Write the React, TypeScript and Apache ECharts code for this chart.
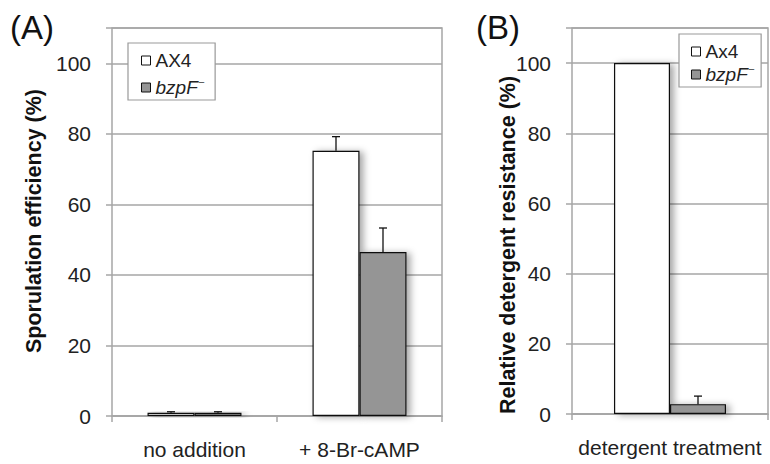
import React, { useEffect, useRef } from "react";
import * as echarts from "echarts";

const catsA = ["no addition", "+ 8-Br-cAMP"];
const ax4A = [0.9, 75.2];
const ax4AErr = [0.3, 4.0];
const bzpA = [0.9, 46.5];
const bzpAErr = [0.3, 6.8];

const catsB = ["detergent treatment"];
const ax4B = [100];
const ax4BErr = [0];
const bzpB = [2.8];
const bzpBErr = [2.3];

const yTicks = [0, 20, 40, 60, 80, 100];

const FONT = "Liberation Sans, Arial, sans-serif";
const GRAY = "#a6a6a6";
const BAR_GRAY = "#959595";
const BW_A = 47;
const BW_B = 56;

function errSeries(idx: number, means: number[], errs: number[], offset: number) {
  return {
    type: "custom",
    xAxisIndex: idx,
    yAxisIndex: idx,
    silent: true,
    z: 5,
    data: means.map((m, i) => [i, m, errs[i]]),
    renderItem: (params: any, api: any) => {
      const i = api.value(0);
      const m = api.value(1);
      const e = api.value(2);
      if (!e) return { type: "group", children: [] };
      const p0 = api.coord([i, m]);
      const p1 = api.coord([i, m + e]);
      const x = p0[0] + offset;
      const style = { stroke: "#111", lineWidth: 1.3 };
      return {
        type: "group",
        children: [
          { type: "line", shape: { x1: x, y1: p0[1], x2: x, y2: p1[1] }, style },
          { type: "line", shape: { x1: x - 4, y1: p1[1], x2: x + 4, y2: p1[1] }, style },
        ],
      };
    },
  };
}

const barStyle = (color: string) => ({
  color,
  borderColor: "#111",
  borderWidth: 1.2,
  shadowColor: "rgba(0,0,0,0.35)",
  shadowBlur: 7,
  shadowOffsetX: 4,
  shadowOffsetY: 1,
});

const legendFormatter = (name: string) =>
  name.startsWith("bzpF") ? "{i|bzpF}{s|⁻}" : name;

const legendText = {
  fontFamily: FONT,
  fontSize: 19,
  lineHeight: 19,
  color: "#222",
  rich: {
    i: { fontFamily: FONT, fontSize: 19, lineHeight: 19, fontStyle: "italic", color: "#222" },
    s: { fontFamily: "DejaVu Sans", fontSize: 14, lineHeight: 19, color: "#222", verticalAlign: "top" },
  },
};

function yAxisCfg(idx: number) {
  return {
    type: "value",
    gridIndex: idx,
    min: 0,
    max: 110,
    interval: 20,
    axisLine: { show: false },
    axisTick: { show: true, length: 6, lineStyle: { color: GRAY, width: 1.5 } },
    splitLine: { show: true, lineStyle: { color: GRAY, width: 1.5 } },
    axisLabel: {
      fontFamily: FONT,
      fontSize: 21,
      color: "#222",
      margin: 21,
      formatter: (v: number) => (yTicks.includes(v) ? String(v) : ""),
    },
  };
}

function xAxisCfg(idx: number, data: string[]) {
  return {
    type: "category",
    gridIndex: idx,
    data,
    axisLine: { show: true, lineStyle: { color: GRAY, width: 1.5 } },
    axisTick: { show: true, length: 6, lineStyle: { color: GRAY, width: 1.5 } },
    axisLabel: { fontFamily: FONT, fontSize: 21, color: "#222", margin: 23 },
  };
}

const yName = (text: string, x: number, y: number) => ({
  type: "text",
  x,
  y,
  rotation: Math.PI / 2,
  style: {
    text,
    font: `bold 21.5px ${FONT}`,
    fill: "#111",
    align: "center",
    verticalAlign: "middle",
  },
});

export default function App() {
  const ref = useRef<HTMLDivElement>(null);
  useEffect(() => {
    if (!ref.current) return;
    const chart = echarts.init(ref.current, undefined, { renderer: "svg" });
    chart.setOption({
      animation: false,
      backgroundColor: "#ffffff",
      grid: [
        { left: 112, top: 28, width: 330, height: 388, show: true, borderColor: GRAY, borderWidth: 1.5 },
        { left: 572, top: 28, width: 196, height: 386, show: true, borderColor: GRAY, borderWidth: 1.5 },
      ],
      xAxis: [xAxisCfg(0, catsA), xAxisCfg(1, catsB)],
      yAxis: [yAxisCfg(0), yAxisCfg(1)],
      legend: [
        {
          orient: "vertical",
          left: 128,
          top: 43,
          padding: [8, 10, 3, 13],
          itemGap: 8,
          itemWidth: 9,
          itemHeight: 9,
          icon: "rect",
          borderColor: "#999",
          borderWidth: 1.2,
          backgroundColor: "#fff",
          data: ["AX4", "bzpF⁻"],
          formatter: legendFormatter,
          textStyle: legendText,
          itemStyle: { borderColor: "#111", borderWidth: 1, shadowBlur: 0, shadowOffsetX: 0, shadowOffsetY: 0 },
        },
        {
          orient: "vertical",
          left: 679,
          top: 34,
          padding: [8, 6, 3, 12],
          itemGap: 4,
          itemWidth: 9,
          itemHeight: 9,
          icon: "rect",
          borderColor: "#999",
          borderWidth: 1.2,
          backgroundColor: "#fff",
          data: ["Ax4", "bzpF⁻"],
          formatter: legendFormatter,
          textStyle: legendText,
          itemStyle: { borderColor: "#111", borderWidth: 1, shadowBlur: 0, shadowOffsetX: 0, shadowOffsetY: 0 },
        },
      ],
      graphic: [
        { type: "text", left: 10, top: 11, style: { text: "(A)", font: `33px ${FONT}`, fill: "#111" } },
        { type: "text", left: 476, top: 11, style: { text: "(B)", font: `33px ${FONT}`, fill: "#111" } },
        yName("Sporulation efficiency (%)", 34, 221),
        yName("Relative detergent resistance (%)", 508, 245),
      ],
      series: [
        {
          name: "AX4",
          type: "bar",
          xAxisIndex: 0,
          yAxisIndex: 0,
          barWidth: BW_A,
          barGap: "0%",
          data: ax4A,
          itemStyle: barStyle("#ffffff"),
        },
        {
          name: "bzpF⁻",
          type: "bar",
          xAxisIndex: 0,
          yAxisIndex: 0,
          barWidth: BW_A,
          barGap: "0%",
          data: bzpA,
          itemStyle: barStyle(BAR_GRAY),
        },
        {
          name: "Ax4",
          type: "bar",
          xAxisIndex: 1,
          yAxisIndex: 1,
          barWidth: BW_B,
          barGap: "0%",
          data: ax4B,
          itemStyle: barStyle("#ffffff"),
        },
        {
          name: "bzpF⁻",
          type: "bar",
          xAxisIndex: 1,
          yAxisIndex: 1,
          barWidth: BW_B,
          barGap: "0%",
          data: bzpB,
          itemStyle: barStyle(BAR_GRAY),
        },
        errSeries(0, ax4A, ax4AErr, -BW_A / 2),
        errSeries(0, bzpA, bzpAErr, BW_A / 2),
        errSeries(1, ax4B, ax4BErr, -BW_B / 2),
        errSeries(1, bzpB, bzpBErr, BW_B / 2),
      ],
    });
    return () => chart.dispose();
  }, []);
  return (
    <div
      ref={ref}
      style={{ position: "fixed", left: 0, top: 0, width: 770, height: 464, background: "#fff" }}
    />
  );
}
